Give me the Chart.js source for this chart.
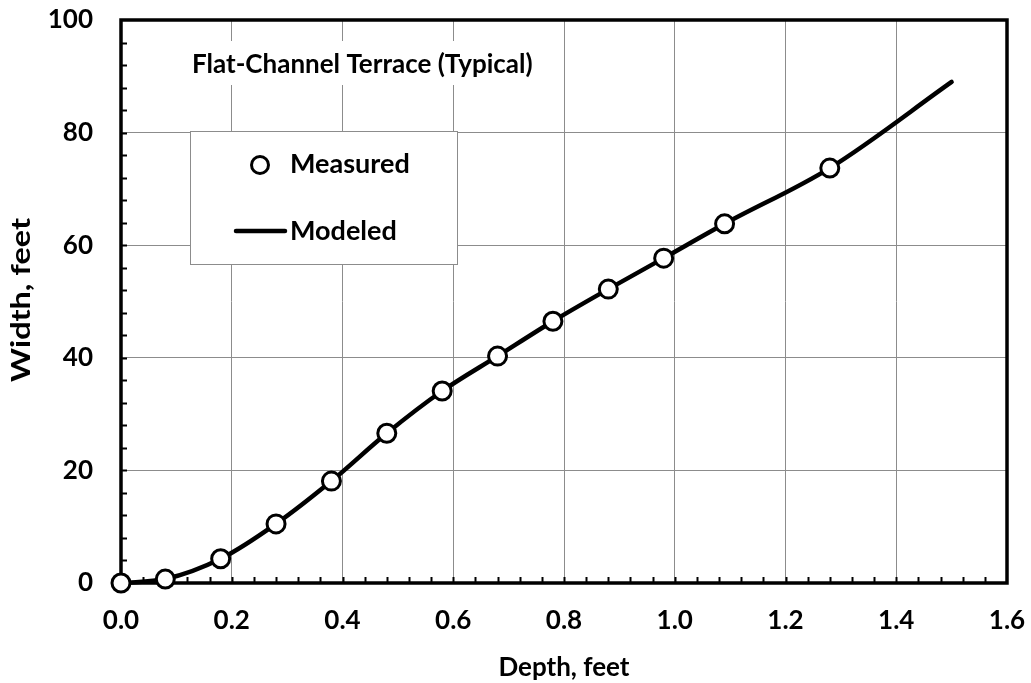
<!DOCTYPE html>
<html>
<head>
<meta charset="utf-8">
<script src="https://cdn.jsdelivr.net/npm/chart.js@4/dist/chart.umd.min.js"></script>
<style>
  html, body { margin: 0; padding: 0; background: #fff; }
  #wrap { width: 1031px; height: 683px; }
</style>
</head>
<body>
<div id="wrap"><canvas id="chart" width="1031" height="683"></canvas></div>
<script>
// measured points (depth ft, width ft)
const measuredDepth = [0.0, 0.08, 0.18, 0.28, 0.38, 0.48, 0.58, 0.68, 0.78, 0.88, 0.98, 1.09, 1.28];
const measuredWidth = [0.0, 0.7, 4.3, 10.5, 18.1, 26.6, 34.1, 40.3, 46.5, 52.2, 57.7, 63.8, 73.7];
// modeled curve
const modeledDepth = [0.0, 0.08, 0.18, 0.28, 0.38, 0.48, 0.58, 0.68, 0.78, 0.88, 0.98, 1.09, 1.28, 1.5];
const modeledWidth = [0.0, 0.7, 4.3, 10.5, 18.1, 26.6, 34.1, 40.3, 46.5, 52.2, 57.7, 63.8, 73.7, 89.0];

const xTicks = [0, 0.2, 0.4, 0.6, 0.8, 1.0, 1.2, 1.4, 1.6];
const yTicks = [0, 20, 40, 60, 80, 100];

const chartTitle = 'Flat-Channel Terrace (Typical)';
const xTitle = 'Depth, feet';
const yTitle = 'Width, feet';

const FONT = 'Lato, "Open Sans", sans-serif';

const measured = measuredDepth.map((d, i) => ({ x: d, y: measuredWidth[i] }));
const modeled = modeledDepth.map((d, i) => ({ x: d, y: modeledWidth[i] }));

// frame, minor ticks, title, legend box, y title
const decor = {
  id: 'decor',
  beforeDatasetsDraw(chart) {
    const { ctx, chartArea: a, scales: { x, y } } = chart;
    ctx.save();
    // minor ticks (inside)
    ctx.strokeStyle = '#000';
    ctx.lineWidth = 2;
    ctx.beginPath();
    for (let v = 0.04; v < 1.6; v += 0.04) {
      const px = Math.round(x.getPixelForValue(v)) + 0.5;
      ctx.moveTo(px, a.bottom);
      ctx.lineTo(px, a.bottom - 6);
    }
    for (let v = 4; v < 100; v += 4) {
      const py = Math.round(y.getPixelForValue(v)) + 0.5;
      ctx.moveTo(a.left, py);
      ctx.lineTo(a.left + 6, py);
    }
    ctx.stroke();
    // frame
    ctx.lineWidth = 3.5;
    ctx.strokeRect(a.left, a.top, a.right - a.left, a.bottom - a.top);

    // title with white background
    ctx.font = 'bold 26px ' + FONT;
    ctx.textBaseline = 'alphabetic';
    ctx.textAlign = 'left';
    const tw = ctx.measureText(chartTitle).width;
    ctx.fillStyle = '#fff';
    ctx.fillRect(188, 41, tw + 8, 44);
    ctx.fillStyle = '#000';
    ctx.fillText(chartTitle, 192, 73);

    // legend box
    ctx.fillStyle = '#fff';
    ctx.fillRect(190, 131, 267, 133);
    ctx.strokeStyle = '#8c8c8c';
    ctx.lineWidth = 1;
    ctx.strokeRect(190.5, 131.5, 267, 133);
    ctx.font = 'bold 27px ' + FONT;
    ctx.fillStyle = '#000';
    ctx.fillText('Measured', 290, 173);
    ctx.fillText('Modeled', 290, 240);
    ctx.beginPath();
    ctx.arc(260, 165, 8.5, 0, Math.PI * 2);
    ctx.fillStyle = '#fff';
    ctx.fill();
    ctx.lineWidth = 3;
    ctx.strokeStyle = '#000';
    ctx.stroke();
    ctx.beginPath();
    ctx.lineCap = 'round';
    ctx.lineWidth = 4.5;
    ctx.moveTo(236, 231);
    ctx.lineTo(285, 231);
    ctx.stroke();

    // y axis title, stretched along its length
    ctx.translate(22, 300);
    ctx.rotate(-Math.PI / 2);
    ctx.font = 'bold 26px ' + FONT;
    ctx.textBaseline = 'middle';
    const yw = ctx.measureText(yTitle).width;
    ctx.scale(164 / yw, 1);
    ctx.textAlign = 'center';
    ctx.fillStyle = '#000';
    ctx.fillText(yTitle, 0, 0);
    ctx.restore();
  }
};

new Chart(document.getElementById('chart'), {
  type: 'scatter',
  data: {
    datasets: [
      {
        label: 'Measured',
        data: measured,
        showLine: false,
        pointRadius: 9,
        pointBorderWidth: 3,
        pointBackgroundColor: '#fff',
        pointBorderColor: '#000',
        clip: false
      },
      {
        label: 'Modeled',
        data: modeled,
        showLine: true,
        borderColor: '#000',
        borderWidth: 4.5,
        pointRadius: 0,
        cubicInterpolationMode: 'monotone',
        borderCapStyle: 'round',
        clip: false
      }
    ]
  },
  options: {
    responsive: false,
    animation: false,
    devicePixelRatio: 1,
    layout: { padding: { left: 0, top: 20, right: 24, bottom: 0 } },
    plugins: { legend: { display: false }, tooltip: { enabled: false } },
    scales: {
      x: {
        type: 'linear',
        min: 0,
        max: 1.6,
        afterBuildTicks: (s) => { s.ticks = xTicks.map(v => ({ value: v })); },
        afterFit: (s) => { s.height = 100; s.paddingLeft = 0; s.paddingRight = 0; },
        grid: { color: '#8c8c8c', lineWidth: 1, drawTicks: false },
        border: { display: false },
        ticks: {
          padding: 22,
          color: '#000',
          font: { family: FONT, size: 26, weight: 'bold' },
          callback: (v) => Number(v).toFixed(1)
        },
        title: {
          display: true,
          text: xTitle,
          color: '#000',
          font: { family: FONT, size: 26, weight: 'bold' },
          padding: { top: 0, bottom: 0 }
        }
      },
      y: {
        type: 'linear',
        min: 0,
        max: 100,
        afterBuildTicks: (s) => { s.ticks = yTicks.map(v => ({ value: v })); },
        afterFit: (s) => { s.width = 121; s.paddingTop = 0; s.paddingBottom = 0; },
        grid: { color: '#8c8c8c', lineWidth: 1, drawTicks: false },
        border: { display: false },
        ticks: {
          padding: 28,
          color: '#000',
          font: { family: FONT, size: 26, weight: 'bold' }
        },
        title: { display: false, text: yTitle }
      }
    }
  },
  plugins: [decor]
});
</script>
</body>
</html>
